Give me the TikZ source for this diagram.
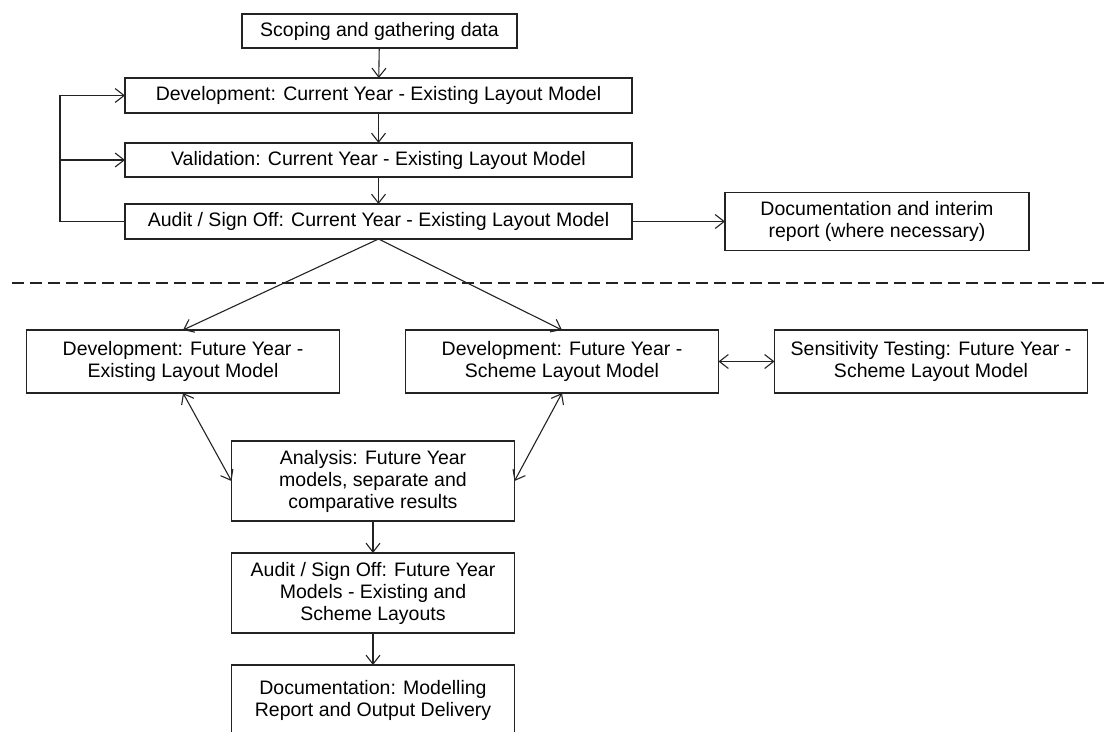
\documentclass[tikz,border=0pt]{standalone}
\usepackage{fontspec}
\setmainfont{Liberation Sans}
\usepackage{xcolor}
\usetikzlibrary{arrows.meta, positioning, calc}
\definecolor{lineColor}{RGB}{35, 35, 35}
\definecolor{textColor}{RGB}{0, 0, 0}

\begin{document}
\begin{tikzpicture}[x=1pt, y=-1pt]

% Style definitions
\tikzset{
    stepbox/.style={
        rectangle, draw=lineColor, line width=1.1pt, fill=white, align=center,
        font=\fontsize{19.5}{22}\selectfont, text=textColor, inner sep=0pt, outer sep=0pt
    },
    wide/.style={stepbox, minimum width=507pt, minimum height=35pt},
    half/.style={stepbox, minimum width=313pt, minimum height=63pt},
    tall/.style={stepbox, minimum width=283pt, minimum height=80pt},
    wire/.style={
        draw=lineColor, line width=1.1pt, -{Straight Barb[length=9pt, width=14pt, line width=1.1pt]}
    },
    bothwire/.style={
        wire, {Straight Barb[length=9pt, width=14pt, line width=1.1pt]}-{Straight Barb[length=9pt, width=14pt, line width=1.1pt]}
    },
    sepline/.style={draw=lineColor, line width=1.1pt, dash pattern=on 12pt off 6pt}
}

\useasboundingbox (0,0) rectangle (1108,731);
\clip (0,0) rectangle (1108,731);

% Current year
\node (scope) [stepbox, minimum width=275pt, minimum height=34pt] at (379.5,31) {Scoping and gathering data};
\node (devcur) [wide, below=30pt of scope, xshift=-1pt] {Development: Current Year - Existing Layout Model};
\node (valcur) [wide, below=30pt of devcur, minimum height=34pt] {Validation: Current Year - Existing Layout Model};
\node (audcur) [wide, below=27pt of valcur] {Audit / Sign Off: Current Year - Existing Layout Model};
\node (docint) [stepbox, right=93pt of audcur, minimum width=304pt, minimum height=58pt] {
    Documentation and interim \\ report (where necessary)
};

% Future year
\node (devfscheme) [half, below=91pt of audcur, xshift=183.5pt] {
    Development: Future Year - \\ Scheme Layout Model
};
\node (devfexist) [half, left=66pt of devfscheme] {
    Development: Future Year - \\ Existing Layout Model
};
\node (sens) [half, right=56pt of devfscheme] {
    Sensitivity Testing: Future Year - \\ Scheme Layout Model
};
\node (analysis) [tall, below=48pt of devfexist, xshift=190pt] {
    Analysis: Future Year \\ models, separate and \\ comparative results
};
\node (audfut) [tall, below=32pt of analysis] {
    Audit / Sign Off: Future Year \\ Models - Existing and \\ Scheme Layouts
};
\node (docfin) [tall, below=32pt of audfut, minimum height=95pt] {
    Documentation: Modelling \\ Report and Output Delivery \\ \strut
};

% Separator
\coordinate (sep_left) at (12,283);
\coordinate (sep_right) at (1108,283);
\draw [sepline] (sep_left) -- (sep_right);

% Connections
\draw [wire] (scope) -- (devcur);
\draw [wire] (devcur) -- (valcur);
\draw [wire] (valcur) -- (audcur);

\coordinate (loop_point) at ($(audcur.west) + (-65pt,0)$);
\draw [wire] (audcur.west) -- (loop_point) |- (devcur.west);
\draw [wire] (loop_point |- valcur.west) -- (valcur.west);

\draw [wire] (audcur.east) -- (docint.west);
\draw [wire] (audcur.south) -- (devfexist.north);
\draw [wire] (audcur.south) -- (devfscheme.north);

\draw [bothwire] (devfscheme.east) -- (sens.west);
\draw [bothwire] (devfexist.south) -- (analysis.west);
\draw [bothwire] (devfscheme.south) -- (analysis.east);

\draw [wire] (analysis) -- (audfut);
\draw [wire] (audfut) -- (docfin);

\end{tikzpicture}
\end{document}
